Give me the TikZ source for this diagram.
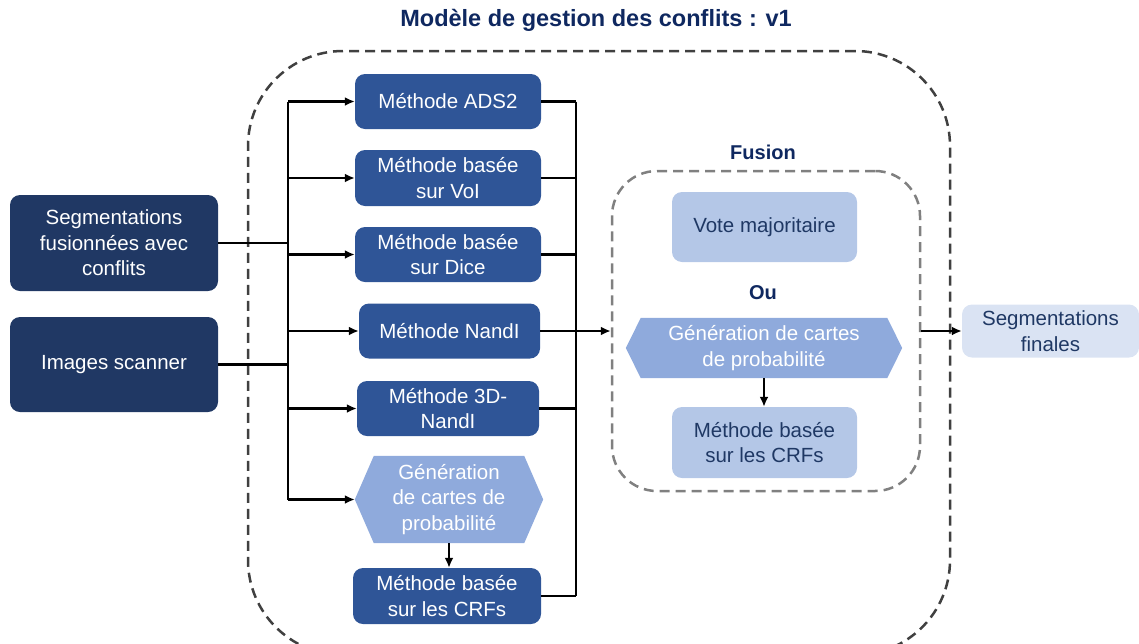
\documentclass[tikz,border=0pt]{standalone}
\usepackage{fontspec}
\setmainfont{Liberation Sans}
\usetikzlibrary{arrows.meta}
\usetikzlibrary{backgrounds}

\definecolor{navybox}{HTML}{203864}
\definecolor{methblue}{HTML}{2F5597}
\definecolor{hexblue}{HTML}{8FAADC}
\definecolor{lightblue}{HTML}{B4C7E7}
\definecolor{palest}{HTML}{DAE3F3}
\definecolor{navytext}{HTML}{1F3864}
\definecolor{titlecol}{HTML}{0F2860}

\newcommand{\boxfont}{\fontsize{20.5}{25.5}\selectfont}
\newcommand{\hexfill}[2]{\fill[hexblue] (#1.west) -- ([xshift=#2pt]#1.north west) -- ([xshift=-#2pt]#1.north east) -- (#1.east) -- ([xshift=-#2pt]#1.south east) -- ([xshift=#2pt]#1.south west) -- cycle;}

\begin{document}
\begin{tikzpicture}[x=1pt, y=-1pt, >={Latex[length=10pt,width=9pt]},
  darkbox/.style={rectangle, rounded corners=10pt, fill=navybox, text=white, align=center, font=\boxfont, inner sep=0pt},
  methbox/.style={darkbox, fill=methblue},
  lightbox/.style={darkbox, fill=lightblue, text=navytext},
  finbox/.style={darkbox, fill=palest, text=navytext},
  hexnode/.style={rectangle, align=center, text=white, font=\boxfont, inner sep=0pt},
  conn/.style={line width=2.5pt},
  label/.style={font=\bfseries\fontsize{20}{24}\selectfont, text=titlecol}]
\useasboundingbox (0,0) rectangle (1139,643);
\clip (0,0) rectangle (1139,643);

\node [font=\bfseries\fontsize{23.5}{27}\selectfont, text=titlecol] (title) at (596,20) {Modèle de gestion des conflits : v1};

% outer frame and fusion frame
\node [rectangle, draw=black!75, line width=2.5pt, dash pattern=on 10pt off 6pt, rounded corners=95pt, minimum width=702pt, minimum height=604pt] (outer) at (599,353) {};
\node [rectangle, draw=black!50, line width=2.5pt, dash pattern=on 10pt off 6pt, rounded corners=45pt, minimum width=308pt, minimum height=320pt] (fus) at (766,331) {};
\node [label] (fuslab) at (763,152) {Fusion};

% inputs
\node [darkbox, minimum width=208pt, minimum height=96pt] (seg) at (114,243) {Segmentations\\fusionnées avec\\conflits};
\node [darkbox, minimum width=208pt, minimum height=95pt] (img) at (114,364.5) {Images scanner};

% methods
\node [methbox, minimum width=186pt, minimum height=55pt] (ads) at (448,101.5) {Méthode ADS2};
\node [methbox, minimum width=186pt, minimum height=56pt] (vol) at (448,178) {Méthode basée\\sur VoI};
\node [methbox, minimum width=186pt, minimum height=55pt] (dice) at (448,254.5) {Méthode basée\\sur Dice};
\node [methbox, minimum width=181pt, minimum height=55pt] (nandi) at (449.5,331) {Méthode NandI};
\node [methbox, minimum width=182pt, minimum height=55pt] (nandi3) at (448,408.5) {Méthode 3D-\\NandI};
\node [hexnode, minimum width=188pt, minimum height=87pt] (hexl) at (449,499.5) {Génération\\de cartes de\\probabilité};
\node [methbox, minimum width=188pt, minimum height=56pt] (crfl) at (447,596) {Méthode basée\\sur les CRFs};

% fusion
\node [lightbox, minimum width=185pt, minimum height=70pt] (vote) at (764.5,227) {Vote majoritaire};
\node [label] (ou) at (763,293) {Ou};
\node [hexnode, minimum width=276pt, minimum height=60pt] (hexr) at (764,348) {Génération de cartes\\de probabilité};
\node [lightbox, minimum width=185pt, minimum height=71pt] (crfr) at (764.5,442.5) {Méthode basée\\sur les CRFs};

\node [finbox, minimum width=177pt, minimum height=53pt] (final) at (1050.5,331) {Segmentations\\finales};

\begin{scope}[on background layer]
\hexfill{hexl}{19}
\hexfill{hexr}{15}
\end{scope}

\coordinate (lbus) at (288,0);
\coordinate (rbus) at (576,0);

\draw[conn] (seg.east) -- (seg.east -| lbus);
\draw[conn] (img.east) -- (img.east -| lbus);
\draw[conn] (ads.west -| lbus) -- (hexl.west -| lbus);
\foreach \m in {ads,vol,dice,nandi,nandi3,hexl}
  \draw[conn,->] (\m.west -| lbus) -- (\m.west);

\draw[conn] (ads.east -| rbus) -- (crfl.east -| rbus);
\foreach \m in {ads,vol,dice,nandi,nandi3,crfl}
  \draw[conn] (\m.east) -- (\m.east -| rbus);
\draw[conn,->] (nandi.east -| rbus) -- (fus.west);

\draw[conn,->] (hexl.south) -- (hexl.south |- crfl.north);
\draw[conn,->] (hexr.south) -- (hexr.south |- crfr.north);
\draw[conn,->] (fus.east) -- (final.west);
\end{tikzpicture}
\end{document}
